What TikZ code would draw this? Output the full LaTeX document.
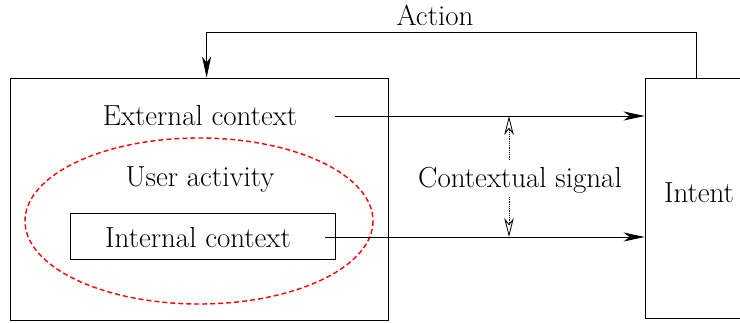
\documentclass[tikz,border=0pt]{standalone}
\usetikzlibrary{arrows.meta,calc}
\begin{document}
\begin{tikzpicture}[x=1pt,y=-1pt,
  every node/.style={font=\fontsize{29}{33}\selectfont, inner sep=0pt},
  box/.style={draw, line width=0.8pt},
  arr/.style={line width=0.8pt, -{Stealth[length=21pt,width=9pt,inset=6pt]}},
  oarr/.style={line width=0.8pt, densely dotted, -{Stealth[open,length=19pt,width=9.5pt,inset=6pt]}},
  ell/.style={draw=red, line width=1.4pt, dash pattern=on 5pt off 3pt}]
\useasboundingbox (0,0) rectangle (740,322);
\clip (0,0) rectangle (740,322);
\node[box, minimum width=378pt, minimum height=242pt] (ctx) at (199,199) {};
\node[box, minimum width=200pt, minimum height=240pt] (intent) at (745,198) {};
\node (intenttxt) at (699,193) {Intent};
\node (ext) at (200,116) {External context};
\node (ua) at (200,180) {User activity};
\node[box, minimum width=265pt, minimum height=46pt] (int) at (202.5,236) {};
\node (inttxt) at (198,238) {Internal context};
\node (cs) at (520,180) {Contextual signal};
\draw[ell] (199,221) ellipse [x radius=174, y radius=83];
\coordinate (extstart) at (335,116);
\coordinate (intstart) at (325,237);
\draw[arr] (extstart) -- (extstart -| intent.west);
\draw[arr] (intstart) -- (intstart -| intent.west);
\coordinate (actA) at ($(intent.north west)+(52,0)$);
\coordinate (actB) at ($(ctx.north west)+(197,0)$);
\draw[arr] (actA) -- ++(0,-45) coordinate (actC) -| (actB);
\node (action) at (435,15) {Action};
\coordinate (sigtop) at (509,160);
\coordinate (sigbot) at (509,197);
\draw[oarr] (sigtop) -- (sigtop |- extstart);
\draw[oarr] (sigbot) -- (sigbot |- intstart);
\end{tikzpicture}
\end{document}
